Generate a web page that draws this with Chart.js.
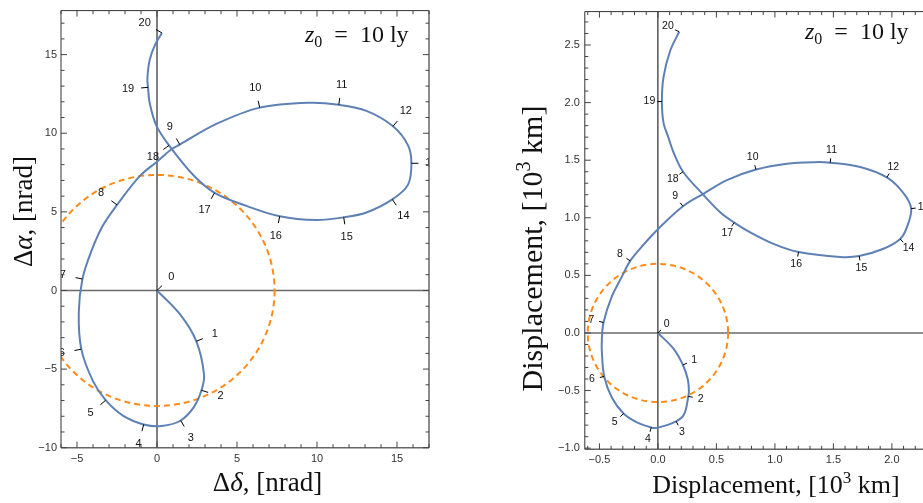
<!DOCTYPE html>
<html><head><meta charset="utf-8">
<script src="https://cdn.jsdelivr.net/npm/chart.js@4.4.1/dist/chart.umd.min.js"></script>
<style>
html,body{margin:0;padding:0;background:#fff;overflow:hidden;width:923px;height:503px;position:relative}
#c1{position:absolute;left:0;top:0}
#c2{position:absolute;left:463px;top:0}
</style></head><body>
<canvas id="c1" width="460" height="503"></canvas>
<canvas id="c2" width="500" height="503"></canvas>
<script>
// ---------- data ----------
const markNames = ['0','1','2','3','4','5','6','7','8','9','10','11','12','13','14','15','16','17','18','19','20'];

// left panel (angles, nrad)
const leftCurveX = [0, 1.42, 2.46, 2.94, 2.78, 2.3, 1.48, 0.3, -0.83, -2.13, -3.21, -4.0, -4.73, -4.89, -4.66, -4.11, -3.39, -2.5, -1.08, 0, 0.9, 1.42, 3.71, 6.42, 9.54, 11.36, 13.09, 14.75, 15.69, 15.9, 15.69, 14.71, 13.09, 11.67, 9.96, 7.67, 5.59, 3.6, 2.25, 0.75, -0.04, -0.46, -0.56, -0.6, -0.46, -0.14, 0.31];
const leftCurveY = [0, -1.49, -3.23, -5.35, -6.35, -7.42, -8.27, -8.62, -8.52, -7.96, -6.98, -5.77, -3.73, -1.39, 0.73, 2.48, 4.11, 5.44, 7.27, 8.19, 8.98, 9.28, 10.59, 11.63, 11.94, 11.81, 11.42, 10.44, 9.23, 8.09, 6.73, 5.79, 4.96, 4.65, 4.48, 4.72, 5.38, 6.21, 7.36, 9.23, 10.48, 11.94, 12.92, 13.5, 14.65, 15.59, 16.38];
const leftMarkX = [0, 2.46, 2.78, 1.48, -0.83, -3.21, -4.73, -4.66, -2.5, 1.42, 6.42, 11.36, 14.75, 15.9, 14.71, 11.67, 7.67, 3.6, 0.75, -0.56, 0.31];
const leftMarkY = [0, -3.23, -6.35, -8.27, -8.52, -6.98, -3.73, 0.73, 5.44, 9.28, 11.63, 11.81, 10.44, 8.09, 5.79, 4.65, 4.72, 6.21, 9.23, 12.92, 16.38];
const leftCircleR = 7.35;
const leftXTicks = [-5, 0, 5, 10, 15];
const leftYTicks = [-10, -5, 0, 5, 10, 15];

// right panel (displacement, 10^3 km)
const rightCurveX = [0, 0.133, 0.214, 0.256, 0.265, 0.26, 0.225, 0.156, -0.009, -0.057, -0.179, -0.294, -0.393, -0.459, -0.479, -0.479, -0.465, -0.393, -0.308, -0.237, -0.12, 0, 0.214, 0.389, 0.59, 0.838, 1.103, 1.344, 1.473, 1.729, 1.957, 2.099, 2.165, 2.128, 2.071, 1.928, 1.72, 1.558, 1.202, 0.988, 0.789, 0.652, 0.532, 0.384, 0.215, 0.133, 0.088, 0.048, 0.034, 0.048, 0.105, 0.182];
const rightCurveY = [0, -0.136, -0.278, -0.406, -0.506, -0.55, -0.704, -0.767, -0.824, -0.82, -0.776, -0.699, -0.563, -0.378, -0.165, -0.051, 0.091, 0.319, 0.489, 0.626, 0.77, 0.901, 1.1, 1.208, 1.327, 1.419, 1.47, 1.483, 1.478, 1.441, 1.35, 1.214, 1.08, 0.916, 0.816, 0.731, 0.668, 0.66, 0.702, 0.773, 0.873, 0.958, 1.048, 1.204, 1.4, 1.569, 1.702, 1.824, 2.009, 2.222, 2.45, 2.615];
const rightMarkX = [0, 0.214, 0.26, 0.156, -0.057, -0.294, -0.459, -0.465, -0.237, 0.214, 0.838, 1.473, 1.957, 2.165, 2.071, 1.72, 1.202, 0.652, 0.215, 0.034, 0.182];
const rightMarkY = [0, -0.278, -0.55, -0.767, -0.82, -0.699, -0.378, 0.091, 0.626, 1.1, 1.419, 1.478, 1.35, 1.08, 0.816, 0.668, 0.702, 0.958, 1.4, 2.009, 2.615];
const rightCircleR = 0.6;
const rightXTicks = [-0.5, 0, 0.5, 1, 1.5, 2];
const rightYTicks = [-1, -0.5, 0, 0.5, 1, 1.5, 2, 2.5];

// ---------- styles ----------
const BLUE = '#5E81B5';
const ORANGE = '#FF8C1A';
const SERIF = '"Liberation Serif", "DejaVu Serif", serif';
const SANS = '"Liberation Sans", Arial, sans-serif';

function pts(xs, ys) { return xs.map((v, i) => ({x: v, y: ys[i]})); }

function rich(ctx, pieces, x, y, align, rot) {
  ctx.save();
  ctx.translate(x, y);
  if (rot) ctx.rotate(rot);
  let total = 0;
  const ws = pieces.map(p => { ctx.font = p[1]; const w = ctx.measureText(p[0]).width; total += w; return w; });
  let cx = align === 'center' ? -total / 2 : (align === 'right' ? -total : 0);
  ctx.textAlign = 'left'; ctx.textBaseline = 'alphabetic'; ctx.fillStyle = '#111';
  pieces.forEach((p, i) => { ctx.font = p[1]; ctx.fillText(p[0], cx, p[2] || 0); cx += ws[i]; });
  ctx.restore();
}

function line(ctx, x1, y1, x2, y2) { ctx.beginPath(); ctx.moveTo(x1, y1); ctx.lineTo(x2, y2); ctx.stroke(); }

function makeDeco(cfg) {
  return {
    id: 'deco',
    beforeDatasetsDraw(chart) {
      const {ctx, chartArea: a, scales: {x, y}} = chart;
      ctx.save();
      ctx.beginPath(); ctx.rect(a.left, a.top, a.right - a.left, a.bottom - a.top); ctx.clip();
      const x0 = x.getPixelForValue(0), y0 = y.getPixelForValue(0);
      ctx.strokeStyle = '#6a6a6a'; ctx.lineWidth = 1.5; line(ctx, a.left, y0, a.right, y0);
      ctx.strokeStyle = '#000'; ctx.lineWidth = 1; line(ctx, x0, a.top, x0, a.bottom);
      const rx = x.getPixelForValue(cfg.r) - x0, ry = y0 - y.getPixelForValue(cfg.r);
      ctx.setLineDash([6, 4]); ctx.strokeStyle = ORANGE; ctx.lineWidth = 2;
      ctx.beginPath(); ctx.ellipse(x0, y0, rx, ry, 0, 0, Math.PI * 2); ctx.stroke();
      ctx.restore();
    },
    afterDatasetsDraw(chart) {
      const {ctx, chartArea: a, scales: {x, y}} = chart;
      const meta = chart.getDatasetMeta(0);
      const el = meta.data;
      ctx.save();
      ctx.beginPath(); ctx.rect(a.left, a.top, a.right - a.left, a.bottom - a.top); ctx.clip();
      ctx.strokeStyle = '#000'; ctx.lineWidth = 1; ctx.fillStyle = '#111';
      ctx.font = cfg.markFont; ctx.textAlign = 'center'; ctx.textBaseline = 'middle';
      cfg.mx.forEach((vx, i) => {
        const X = x.getPixelForValue(vx), Y = y.getPixelForValue(cfg.my[i]);
        let j = 0, best = Infinity;
        el.forEach((p, k) => { const d = (p.x - X) ** 2 + (p.y - Y) ** 2; if (d < best) { best = d; j = k; } });
        const p = el[j];
        let dx, dy;
        if (p.cp1x !== undefined && (p.cp2x !== p.cp1x || p.cp2y !== p.cp1y)) { dx = p.cp2x - p.cp1x; dy = p.cp2y - p.cp1y; }
        else { const a0 = el[Math.max(0, j - 1)], a1 = el[Math.min(el.length - 1, j + 1)]; dx = a1.x - a0.x; dy = a1.y - a0.y; }
        const L = Math.hypot(dx, dy) || 1; dx /= L; dy /= L;
        const nx = dy, ny = -dx;
        line(ctx, X, Y, X + nx * cfg.tickLen, Y + ny * cfg.tickLen);
        ctx.fillText(markNames[i], X + nx * cfg.labOff, Y + ny * cfg.labOff);
      });
      ctx.restore();
      // frame
      ctx.save();
      ctx.strokeStyle = '#333'; ctx.lineWidth = 1;
      line(ctx, a.left, a.top, a.right, a.top);
      line(ctx, a.left, a.top, a.left, a.bottom);
      ctx.strokeStyle = '#666'; ctx.lineWidth = 1.5;
      line(ctx, a.left, a.bottom, a.right, a.bottom);
      line(ctx, a.right, a.top, a.right, a.bottom);
      ctx.strokeStyle = '#444'; ctx.lineWidth = 1;
      const doTicks = (scale, horiz, minor, major) => {
        const s = Math.ceil(scale.min / minor - 1e-6), e = Math.floor(scale.max / minor + 1e-6);
        for (let k = s; k <= e; k++) {
          const v = k * minor;
          const isMaj = Math.abs(v / major - Math.round(v / major)) < 1e-6;
          const len = isMaj ? 6 : 3.5;
          const p = scale.getPixelForValue(v);
          if (horiz) { line(ctx, p, a.bottom, p, a.bottom - len); line(ctx, p, a.top, p, a.top + len); }
          else { line(ctx, a.left, p, a.left + len, p); line(ctx, a.right, p, a.right - len, p); }
        }
      };
      doTicks(x, true, cfg.minor, cfg.major);
      doTicks(y, false, cfg.minor, cfg.major);
      ctx.restore();
    },
    afterDraw(chart) {
      const {ctx, chartArea: a} = chart;
      cfg.titles(ctx, a);
    }
  };
}

function scaleOpts(min, max, tickVals, fmt, pad, fitProp, fitVal) {
  return {
    type: 'linear', min: min, max: max,
    grid: {display: false, drawTicks: false},
    border: {display: false},
    ticks: {font: {family: SANS, size: 11}, color: '#333', padding: pad, autoSkip: false, maxRotation: 0, callback: fmt},
    afterBuildTicks: s => { s.ticks = tickVals.map(v => ({value: v})); },
    afterFit: s => { s[fitProp] = fitVal; }
  };
}

const fmtInt = v => (v < 0 ? '\u2212' : '') + Math.abs(v);
const fmtDec = v => (v < 0 ? '\u2212' : '') + Math.abs(v).toFixed(1);

function z0Label(ctx, x, y) {
  rich(ctx, [
    ['z', 'italic 24px ' + SERIF],
    ['0', '16px ' + SERIF, 5],
    ['  =  ', '24px ' + SERIF],
    ['10 ly', '24px ' + SERIF]
  ], x, y, 'left');
}

function curveDataset(xs, ys) {
  return {data: pts(xs, ys), showLine: true, pointRadius: 0, pointHoverRadius: 0, borderColor: BLUE, borderWidth: 2, tension: 0.34, fill: false};
}

// ---------- left chart ----------
new Chart(document.getElementById('c1'), {
  type: 'line',
  data: {datasets: [curveDataset(leftCurveX, leftCurveY)]},
  options: {
    responsive: false, animation: false, devicePixelRatio: 1, events: [],
    layout: {padding: {top: 3.3, right: 31, left: 0, bottom: 0}},
    plugins: {legend: {display: false}, tooltip: {enabled: false}},
    scales: {
      x: scaleOpts(-6, 17, leftXTicks, fmtInt, 5, 'height', 55.3),
      y: scaleOpts(-10, 17.8, leftYTicks, fmtInt, 4, 'width', 61)
    }
  },
  plugins: [makeDeco({
    r: leftCircleR, mx: leftMarkX, my: leftMarkY, tickLen: 7, labOff: 20, markFont: '11px ' + SANS,
    minor: 1, major: 5,
    titles: (ctx, a) => {
      rich(ctx, [['\u0394', '27px ' + SERIF], ['\u03B4', 'italic 27px ' + SERIF], [', [nrad]', '27px ' + SERIF]], 267.5, 491, 'center');
      rich(ctx, [['\u0394', '27px ' + SERIF], ['\u03B1', 'italic 27px ' + SERIF], [', [nrad]', '27px ' + SERIF]], 31.5, 211.5, 'center', -Math.PI / 2);
      z0Label(ctx, a.right - 124, 41.5);
    }
  })]
});

// ---------- right chart ----------
new Chart(document.getElementById('c2'), {
  type: 'line',
  data: {datasets: [curveDataset(rightCurveX, rightCurveY)]},
  options: {
    responsive: false, animation: false, devicePixelRatio: 1, events: [],
    layout: {padding: {top: 3.3, right: 31, left: 0, bottom: 0}},
    plugins: {legend: {display: false}, tooltip: {enabled: false}},
    scales: {
      x: scaleOpts(-0.625, 2.343, rightXTicks, fmtDec, 4, 'height', 53.7),
      y: scaleOpts(-1.01, 2.79, rightYTicks, fmtDec, 5, 'width', 121.8)
    }
  },
  plugins: [makeDeco({
    r: rightCircleR, mx: rightMarkX, my: rightMarkY, tickLen: 4.5, labOff: 12.5, markFont: '10.5px ' + SANS,
    minor: 0.1, major: 0.5,
    titles: (ctx, a) => {
      rich(ctx, [['Displacement, [10', '26px ' + SERIF], ['3', '17px ' + SERIF, -10], [' km]', '26px ' + SERIF]], 313, 493, 'center');
      rich(ctx, [['Displacement, [10', '30px ' + SERIF], ['3', '20px ' + SERIF, -12], [' km]', '30px ' + SERIF]], 79, 248.5, 'center', -Math.PI / 2);
      z0Label(ctx, a.right - 127, 39);
    }
  })]
});
</script>
</body></html>
